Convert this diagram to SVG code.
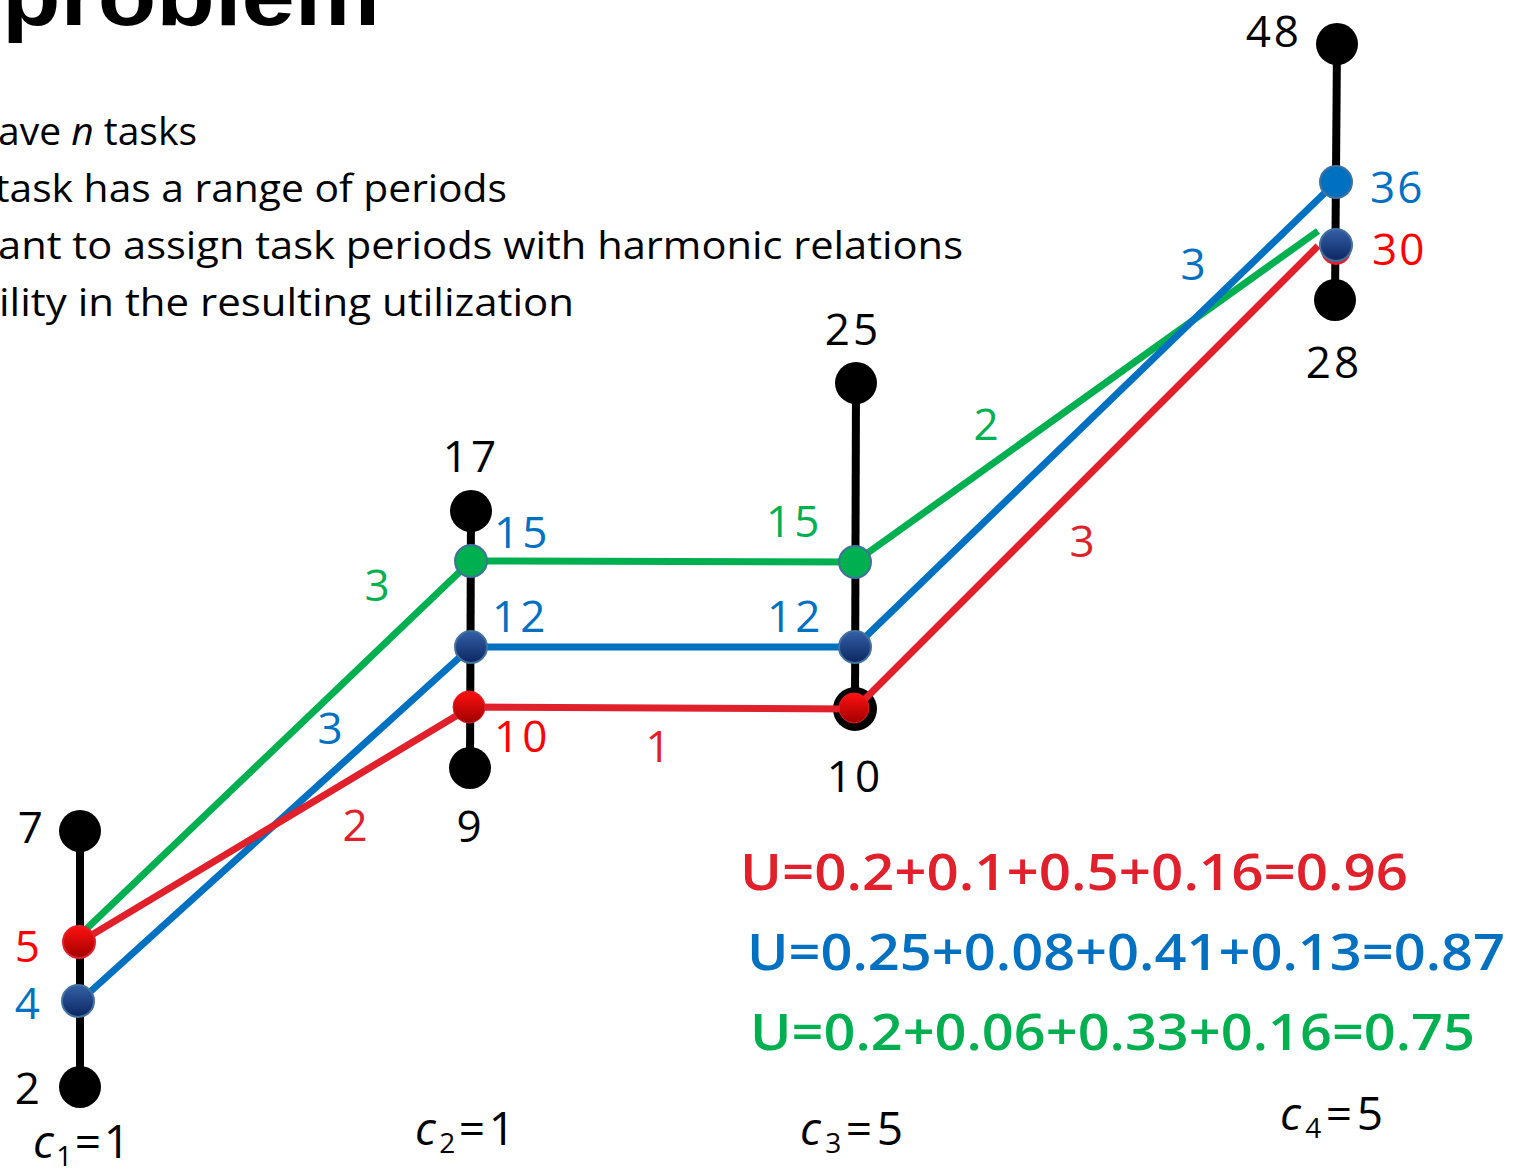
<svg xmlns="http://www.w3.org/2000/svg" width="1513" height="1169" viewBox="0 0 1513 1169">
<defs>
<linearGradient id="gBlue" x1="0" y1="0" x2="0" y2="1"><stop offset="0" stop-color="#3560A8"/><stop offset="1" stop-color="#0B2660"/></linearGradient>
<linearGradient id="gRed" x1="0" y1="0" x2="0" y2="1"><stop offset="0" stop-color="#FF1010"/><stop offset="1" stop-color="#A00000"/></linearGradient>
<style>
.bar{stroke:#000;stroke-width:8;fill:none}
.end{fill:#000}
.ln{fill:none;stroke-width:7;stroke-linejoin:round}
.red{stroke:#E0202A}.blue{stroke:#0070C0}.green{stroke:#00B050}
.pt{stroke:#41719C;stroke-width:2}
.t{font-family:"Open Sans","Liberation Sans",sans-serif;font-size:44px}
.body{font-family:"Open Sans","Liberation Sans",sans-serif;font-size:38px;fill:#000}
.u{font-family:"Open Sans","Liberation Sans",sans-serif;font-size:50px;font-weight:600}
.c{font-family:"Open Sans","Liberation Sans",sans-serif;font-size:46px;fill:#000}
.k{fill:#000}.r{fill:#E0202A}.rr{fill:#FF0000}.b{fill:#0070C0}.g{fill:#00B050}
</style>
</defs>
<rect width="1513" height="1169" fill="#fff"/>
<text x="2" y="25" font-family="'Liberation Sans',sans-serif" font-weight="bold" font-size="88" textLength="378" lengthAdjust="spacingAndGlyphs">problem</text>
<g id="bullets">
<text class="body" x="-2" y="145" textLength="199" lengthAdjust="spacingAndGlyphs">ave <tspan font-style="italic">n</tspan> tasks</text>
<text class="body" x="-5" y="202" textLength="512" lengthAdjust="spacingAndGlyphs">task has a range of periods</text>
<text class="body" x="-2" y="259" textLength="965" lengthAdjust="spacingAndGlyphs">ant to assign task periods with harmonic relations</text>
<text class="body" x="-1" y="316" textLength="575" lengthAdjust="spacingAndGlyphs">ility in the resulting utilization</text>
</g>
<g id="task1">
<line class="bar" x1="80" y1="831" x2="80" y2="1087"/>
<circle class="end" cx="80" cy="831" r="21"/>
<circle class="end" cx="80" cy="1087" r="21"/>
<text class="t k" x="43" y="843" text-anchor="end">7</text>
<text class="t k" x="40" y="1104" text-anchor="end">2</text>
</g>
<g id="task2">
<line class="bar" x1="471" y1="511" x2="470" y2="768"/>
<circle class="end" cx="471" cy="511" r="21"/>
<circle class="end" cx="470" cy="768" r="21"/>
<text class="t k" x="471" y="472" text-anchor="middle" letter-spacing="3">17</text>
<text class="t k" x="469" y="842" text-anchor="middle">9</text>
</g>
<g id="task3">
<line class="bar" x1="856" y1="383" x2="855" y2="709"/>
<circle class="end" cx="856" cy="383" r="21"/>
<circle class="end" cx="855" cy="709" r="22"/>
<text class="t k" x="853" y="345" text-anchor="middle" letter-spacing="3">25</text>
<text class="t k" x="855" y="792" text-anchor="middle" letter-spacing="3">10</text>
</g>
<g id="task4">
<line class="bar" x1="1337" y1="44" x2="1335" y2="300"/>
<circle class="end" cx="1337" cy="44" r="21"/>
<circle class="end" cx="1335" cy="300" r="21"/>
<text class="t k" x="1302" y="47" text-anchor="end" letter-spacing="3">48</text>
<text class="t k" x="1334" y="378" text-anchor="middle" letter-spacing="3">28</text>
</g>
<g id="connectors">
<polyline class="ln green" points="80,935 471,561 855,562 1318,231"/>
<polyline class="ln blue" points="80,1001 471,647 855,647 1336,182"/>
<polyline class="ln red" points="80,942 471,707 855,709 1318,246"/>
</g>
<g id="points">
<circle cx="1336" cy="250" r="15" fill="#E0202A"/>
<circle class="pt" cx="1336" cy="182" r="16" fill="#0070C0"/>
<circle class="pt" cx="1336" cy="245" r="16" fill="url(#gBlue)"/>
<circle class="pt" cx="471" cy="561" r="16" fill="#00B050"/>
<circle class="pt" cx="855" cy="562" r="16" fill="#00B050"/>
<circle class="pt" cx="471" cy="647" r="16" fill="url(#gBlue)"/>
<circle class="pt" cx="855" cy="647" r="16" fill="url(#gBlue)"/>
<circle cx="469" cy="707" r="16" fill="url(#gRed)" stroke="#E0202A" stroke-width="1"/>
<circle cx="854" cy="708" r="15" fill="url(#gRed)" stroke="#E0202A" stroke-width="1"/>
<circle cx="79" cy="942" r="16" fill="url(#gRed)" stroke="#E0202A" stroke-width="2"/>
<circle class="pt" cx="78" cy="1001" r="16" fill="url(#gBlue)"/>
</g>
<g id="labels">
<text class="t rr" x="40" y="962" text-anchor="end">5</text>
<text class="t b" x="40" y="1019" text-anchor="end">4</text>
<text class="t b" x="1370" y="203" letter-spacing="2">36</text>
<text class="t rr" x="1372" y="265" letter-spacing="2">30</text>
<text class="t b" x="1193" y="280" text-anchor="middle">3</text>
<text class="t g" x="986" y="440" text-anchor="middle">2</text>
<text class="t r" x="1082" y="557" text-anchor="middle">3</text>
<text class="t b" x="494" y="548" letter-spacing="3">15</text>
<text class="t g" x="766" y="537" letter-spacing="3">15</text>
<text class="t g" x="377" y="601" text-anchor="middle">3</text>
<text class="t b" x="492" y="632" letter-spacing="3">12</text>
<text class="t b" x="767" y="632" letter-spacing="3">12</text>
<text class="t b" x="330" y="744" text-anchor="middle">3</text>
<text class="t rr" x="494" y="752" letter-spacing="3">10</text>
<text class="t r" x="658" y="762" text-anchor="middle">1</text>
<text class="t r" x="355" y="841" text-anchor="middle">2</text>
</g>
<g id="utilization">
<text class="u r" x="740" y="890" textLength="668" lengthAdjust="spacingAndGlyphs">U=0.2+0.1+0.5+0.16=0.96</text>
<text class="u b" x="747" y="970" textLength="758" lengthAdjust="spacingAndGlyphs">U=0.25+0.08+0.41+0.13=0.87</text>
<text class="u g" x="750" y="1050" textLength="725" lengthAdjust="spacingAndGlyphs">U=0.2+0.06+0.33+0.16=0.75</text>
</g>
<g id="costs">
<text class="c" x="33" y="1158" textLength="97" lengthAdjust="spacing"><tspan font-style="italic">c</tspan><tspan font-size="28" dy="8">1</tspan><tspan dy="-8">=1</tspan></text>
<text class="c" x="415" y="1145" textLength="100" lengthAdjust="spacing"><tspan font-style="italic">c</tspan><tspan font-size="28" dy="8">2</tspan><tspan dy="-8">=1</tspan></text>
<text class="c" x="800" y="1145" textLength="103" lengthAdjust="spacing"><tspan font-style="italic">c</tspan><tspan font-size="28" dy="8">3</tspan><tspan dy="-8">=5</tspan></text>
<text class="c" x="1280" y="1130" textLength="103" lengthAdjust="spacing"><tspan font-style="italic">c</tspan><tspan font-size="28" dy="8">4</tspan><tspan dy="-8">=5</tspan></text>
</g>
</svg>
